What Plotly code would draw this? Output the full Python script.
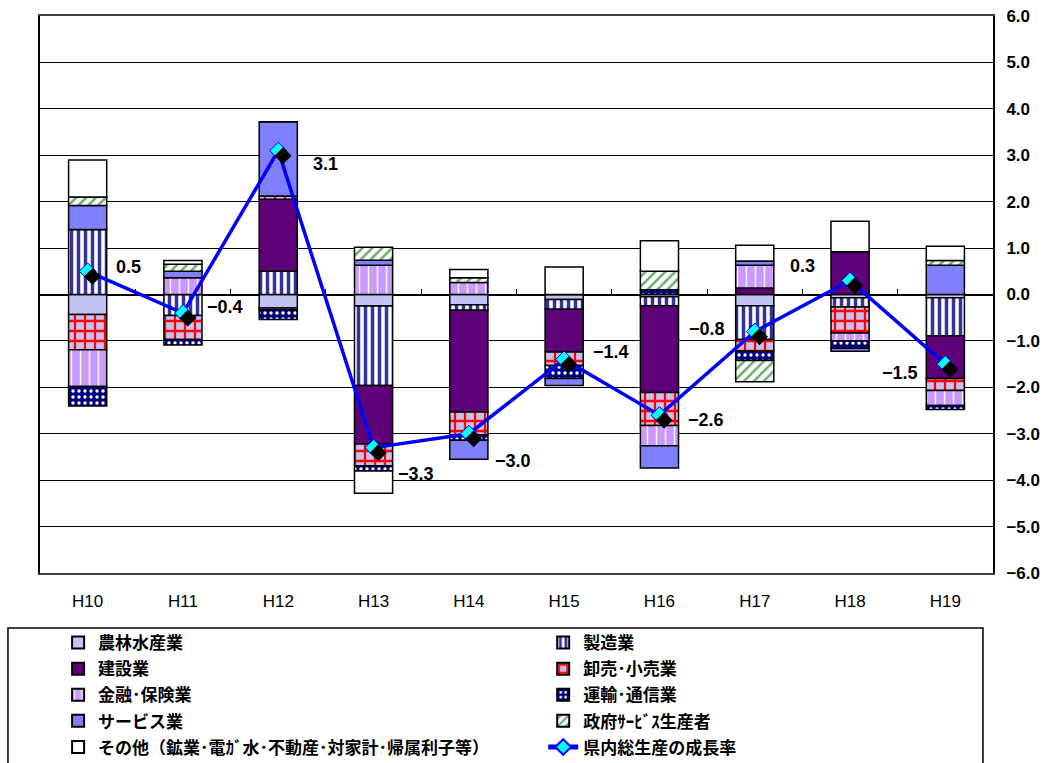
import plotly.graph_objects as go

years = ["H10", "H11", "H12", "H13", "H14", "H15", "H16", "H17", "H18", "H19"]

agri      = [-0.43, 0.00, -0.29, -0.25, -0.22, -0.11, -0.05, -0.24, -0.07, -0.07]
manuf     = [ 1.40, -0.45, 0.50, -1.71, -0.12, -0.21, -0.19, -0.73, -0.20, -0.82]
constr    = [ 0.00, 0.00, 1.55, -1.26, -2.19, -0.92, -1.87, 0.14, 0.92, -0.92]
wholesale = [-0.76, -0.52, 0.07, -0.47, -0.49, -0.29, -0.71, -0.25, -0.56, -0.26]
finance   = [-0.79, 0.36, -0.04, 0.63, 0.26, 0.00, -0.44, 0.49, -0.17, -0.32]
transport = [-0.42, -0.12, -0.21, -0.11, -0.12, -0.28, 0.10, -0.20, -0.16, -0.09]
service   = [ 0.52, 0.14, 1.60, 0.11, -0.41, -0.15, -0.48, 0.09, -0.06, 0.63]
govt      = [ 0.18, 0.15, 0.00, 0.28, 0.10, 0.00, 0.40, -0.46, 0.00, 0.10]
other     = [ 0.80, 0.08, 0.00, -0.48, 0.18, 0.59, 0.66, 0.34, 0.66, 0.31]
growth    = [0.5, -0.4, 3.1, -3.3, -3.0, -1.4, -2.6, -0.8, 0.3, -1.5]

y_ticks = [6, 5, 4, 3, 2, 1, 0, -1, -2, -3, -4, -5, -6]

# label offsets in pixels (style)
label_dx = [41, 42, 47, 42, 44, 47, 47, -48, -48, -45]
label_dy = [4, 6, -13, -26, -27, 7, -5, 3, 15, -9]

def pat(shape, fg, bg, size, solidity):
    return dict(color=bg, pattern=dict(shape=shape, fgcolor=fg, bgcolor=bg, size=size,
                                       solidity=solidity, fillmode="overlay", fgopacity=1))

# (name, values, marker, legend column)
series = [
    ("農林水産業", agri, dict(color="#C4C4F4"), "legend"),
    ("製造業", manuf, pat("|", "#33339A", "white", 7, 0.5), "legend2"),
    ("建設業", constr, dict(color="#5E0078"), "legend"),
    ("卸売･小売業", wholesale, pat("+", "#FF0000", "#C8C0F0", 10, 0.4), "legend2"),
    ("金融･保険業", finance, pat("|", "white", "#CC99FF", 9, 0.15), "legend"),
    ("運輸･通信業", transport, pat(".", "white", "#000080", 6, 0.25), "legend2"),
    ("サービス業", service, dict(color="#8080FF"), "legend"),
    ("政府ｻｰﾋﾞｽ生産者", govt, pat("/", "#66AA66", "white", 7, 0.35), "legend2"),
    ("その他（鉱業･電ｶﾞ水･不動産･対家計･帰属利子等）", other, dict(color="white"), "legend"),
]

fig = go.Figure()
for name, vals, mk, lg in series:
    mk = dict(mk)
    mk["line"] = dict(color="black", width=1.5)
    fig.add_trace(go.Bar(x=years, y=vals, name=name, marker=mk, width=0.4,
                         legend=lg, legendgroup=name))

# shadow of markers (drawn on slightly shifted overlay axes)
fig.add_trace(go.Scatter(x=years, y=growth, mode="markers", xaxis="x2", yaxis="y2",
                         marker=dict(symbol="diamond", size=13, color="black"),
                         showlegend=False, hoverinfo="skip"))
fig.add_trace(go.Scatter(x=years, y=growth, mode="lines+markers", name="県内総生産の成長率",
                         legend="legend2", legendgroup="growth",
                         line=dict(color="#0000FF", width=3.5),
                         marker=dict(symbol="diamond", size=13, color="#00FFFF",
                                     line=dict(color="#0000FF", width=1))))
# carrier for the zero-line category ticks
fig.add_trace(go.Scatter(x=[0], y=[0], xaxis="x3", yaxis="y", mode="markers",
                         marker=dict(opacity=0), showlegend=False, hoverinfo="skip"))

for i, (yr, g) in enumerate(zip(years, growth)):
    txt = f"{g:.1f}".replace("-", "−")
    fig.add_annotation(x=yr, y=g, text=txt, showarrow=False, xshift=label_dx[i], yshift=label_dy[i],
                       font=dict(family="Arial, Liberation Sans", size=18, color="black", weight="bold"))

# legend frame
fig.add_shape(type="rect", xref="paper", yref="paper", x0=-0.0336, x1=0.9895, y0=-0.5, y1=-0.0989,
              line=dict(color="black", width=1.5), fillcolor="rgba(0,0,0,0)", layer="above")

legend_font = dict(family="Noto Sans CJK JP", size=17, color="black", weight="bold")
legend_common = dict(orientation="v", yanchor="top", xanchor="left", y=-0.0934,
                     bgcolor="rgba(0,0,0,0)", borderwidth=0, font=legend_font,
                     traceorder="grouped", tracegroupgap=1, itemsizing="constant")

fig.update_layout(
    width=1046, height=763,
    margin=dict(l=40, r=53, t=16, b=190, autoexpand=False),
    paper_bgcolor="white", plot_bgcolor="white",
    barmode="relative",
    showlegend=True,
    legend=dict(x=0.019, **legend_common),
    legend2=dict(x=0.528, **legend_common),
    xaxis=dict(type="category", range=[-0.5, 9.5], showgrid=False, ticks="",
               ticklabelstandoff=12,
               tickfont=dict(family="Arial, Liberation Sans", size=17, color="black"),
               showline=True, linecolor="#404040", linewidth=1.5, mirror=True, zeroline=False),
    yaxis=dict(range=[-6, 6], side="right", tickvals=y_ticks, tickformat=".1f",
               showgrid=True, gridcolor="black", gridwidth=1,
               zeroline=True, zerolinecolor="black", zerolinewidth=1.5,
               showline=True, linecolor="black", linewidth=2, mirror=True, ticks="",
               ticklabelstandoff=8,
               tickfont=dict(family="Arial, Liberation Sans", size=17, color="black", weight="bold")),
    xaxis2=dict(type="category", overlaying="x", range=[-0.5 - 0.05, 9.5 - 0.05], visible=False),
    yaxis2=dict(overlaying="y", range=[-6 + 0.11, 6 + 0.11], visible=False),
    xaxis3=dict(overlaying="x", anchor="free", position=0.5, side="top", range=[-0.5, 9.5],
                tickvals=[0.5, 1.5, 2.5, 3.5, 4.5, 5.5, 6.5, 7.5, 8.5], ticks="outside",
                ticklen=6, tickcolor="black", showticklabels=False, showgrid=False, showline=False,
                zeroline=False),
)

fig.write_html("out.html")
